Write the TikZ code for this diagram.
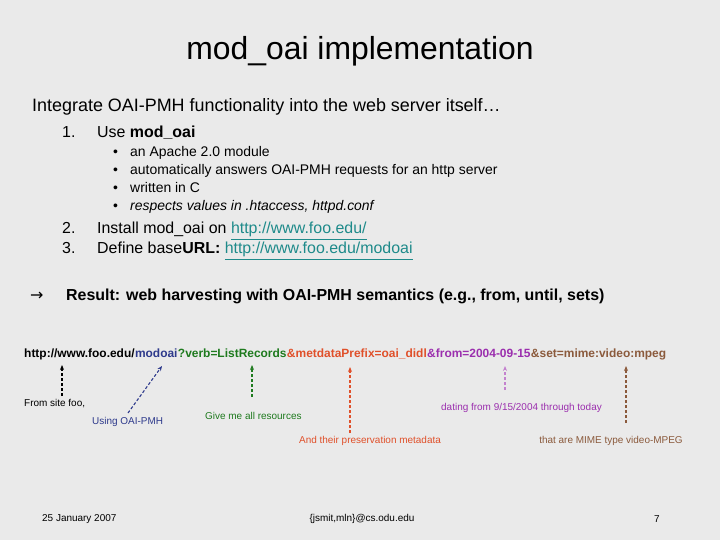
\documentclass[tikz,border=0pt]{standalone}
\usetikzlibrary{arrows.meta}
\usepackage{fontspec}
\setmainfont{Liberation Sans}
\newfontfamily\dejavu{DejaVu Sans}
\definecolor{bg}{HTML}{EAEAEA}
\definecolor{cblue}{HTML}{2E3A8C}
\definecolor{cgreen}{HTML}{1E7A1E}
\definecolor{cred}{HTML}{E0502A}
\definecolor{cpurple}{HTML}{9B2FAE}
\definecolor{cbrown}{HTML}{8B5A3C}
\definecolor{clink}{HTML}{1E8A8A}
\begin{document}
\begin{tikzpicture}[x=1bp,y=-1bp,
  txt/.style={anchor=base west,inner sep=0},
  url/.style={anchor=base west,inner sep=0,font=\fontsize{12}{14}\selectfont\bfseries},
  lab/.style={inner sep=0,font=\fontsize{10}{12}\selectfont},
  arr/.style={densely dashed,line width=1.1pt,-{Stealth[length=5pt,width=4pt]}}]
\fill[bg] (0,0) rectangle (720,540);
\node[inner sep=0,font=\fontsize{32}{36}\selectfont] (title) at (360,51) {mod\_oai implementation};
\node[txt,font=\fontsize{18}{20}\selectfont] (intro) at (32,112) {Integrate OAI-PMH functionality into the web server itself…};
\begin{scope}[font=\fontsize{16}{18}\selectfont]
\node[txt] (n1) at (62,138) {1.};
\node[txt] (t1) at (97,138) {Use \textbf{mod\_oai}};
\node[txt] (n2) at (62,234) {2.};
\node[txt] (t2) at (97,234) {Install mod\_oai on \textcolor{clink}{\underline{http://www.foo.edu/}}};
\node[txt] (n3) at (62,254) {3.};
\node[txt] (t3) at (97,254) {Define base\textbf{URL:} \textcolor{clink}{\underline{http://www.foo.edu/modoai}}};
\node[txt,font=\dejavu\fontsize{16}{18}\selectfont] (ar) at (30,300) {→};
\node[txt] (res) at (66,300) {\textbf{Result: web harvesting with OAI-PMH semantics (e.g., from, until, sets)}};
\end{scope}
\begin{scope}[font=\fontsize{14}{16}\selectfont]
\foreach \y/\t [count=\i] in {157/an Apache 2.0 module,175/automatically answers OAI-PMH requests for an http server,193/written in C,211/\textit{respects values in .htaccess, httpd.conf}}{
  \node[txt] (b\i) at (113,\y) {•};
  \node[txt] (s\i) at (130,\y) {\t};
}
\end{scope}
\node[url] (u1) at (24,357) {http://www.foo.edu/};
\node[url,text=cblue] (u2) at (u1.base east) {modoai};
\node[url,text=cgreen] (u3) at (u2.base east) {?verb=ListRecords};
\node[url,text=cred] (u4) at (u3.base east) {\&metdataPrefix=oai\_didl};
\node[url,text=cpurple] (u5) at (u4.base east) {\&from=2004-09-15};
\node[url,text=cbrown] (u6) at (u5.base east) {\&set=mime:video:mpeg};
\node[lab,anchor=west] (l1) at (24,404) {From site foo,};
\node[lab,anchor=west,text=cblue] (l2) at (92,422) {Using OAI-PMH};
\node[lab,anchor=west,text=cgreen] (l3) at (205,416) {Give me all resources};
\node[lab,text=cred] (l4) at (370,441) {And their preservation metadata};
\node[lab,anchor=west,text=cpurple] (l5) at (441,408) {dating from 9/15/2004 through today};
\node[lab,text=cbrown] (l6) at (611,441) {that are MIME type video-MPEG};
\coordinate (a1) at (62,396); \coordinate (e1) at (62,365);
\coordinate (a2) at (128,413); \coordinate (e2) at (162,366);
\coordinate (a3) at (252,397); \coordinate (e3) at (252,365);
\coordinate (a4) at (350,433); \coordinate (e4) at (350,367);
\coordinate (a5) at (505,390); \coordinate (e5) at (505,366);
\coordinate (a6) at (626,423); \coordinate (e6) at (626,366);
\draw[arr,black] (a1) -- (e1);
\draw[arr,cblue] (a2) -- (e2);
\draw[arr,cgreen] (a3) -- (e3);
\draw[arr,cred] (a4) -- (e4);
\draw[arr,cpurple!60] (a5) -- (e5);
\draw[arr,cbrown] (a6) -- (e6);
\begin{scope}[font=\fontsize{10}{12}\selectfont]
\node[anchor=west,inner sep=0] (f1) at (42,519) {25 January 2007};
\node[inner sep=0] (f2) at (362,519) {\{jsmit,mln\}@cs.odu.edu};
\node[inner sep=0] (f3) at (657,519) {7};
\end{scope}
\end{tikzpicture}
\end{document}
